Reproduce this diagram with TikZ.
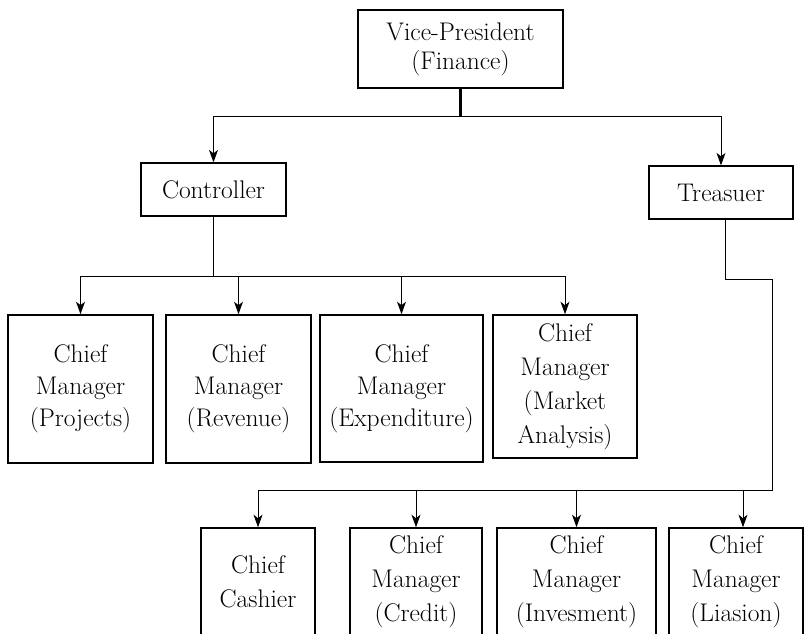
\documentclass[tikz,border=0pt]{standalone}
\usetikzlibrary{arrows.meta}
\begin{document}
\begin{tikzpicture}[x=1pt,y=-1pt,
  box/.style={draw, line width=1.6pt, align=center, inner sep=0pt, font=\fontsize{25.5}{32}\selectfont},
  conn/.style={line width=1pt},
  arr/.style={conn, -{Stealth[length=12.5pt,width=9pt,inset=3.5pt]}}]
\useasboundingbox (0,0) rectangle (807,633);
\clip (0,0) rectangle (807,633);
\fill[white] (0,0) rectangle (807,633);
% nodes
\node[box, font=\fontsize{25.5}{29}\selectfont, minimum width=205pt, minimum height=78pt] (vp) at (460.5,49) {Vice-President\\(Finance)};
\node[box, line width=1.3pt, minimum width=145pt, minimum height=53pt] (ctrl) at (213.5,189.5) {Controller};
\node[box, line width=1.3pt, minimum width=144pt, minimum height=53pt] (tr) at (721,192.5) {Treasuer};
\node[box, minimum width=145pt, minimum height=148pt] (ra) at (80.5,389) {Chief\\Manager\\(Projects)};
\node[box, minimum width=145pt, minimum height=148pt] (rb) at (238.5,389) {Chief\\Manager\\(Revenue)};
\node[box, minimum width=163pt, minimum height=147pt] (rc) at (401.5,388.5) {Chief\\Manager\\(Expenditure)};
\node[box, font=\fontsize{25.5}{34}\selectfont, minimum width=144pt, minimum height=143pt] (rd) at (565,386.5) {Chief\\Manager\\(Market\\Analysis)};
\node[box, font=\fontsize{25.5}{34}\selectfont, minimum width=114pt, minimum height=108pt] (sa) at (258,582) {Chief\\Cashier};
\node[box, font=\fontsize{25.5}{34}\selectfont, minimum width=132pt, minimum height=108pt] (sb) at (416,582) {Chief\\Manager\\(Credit)};
\node[box, font=\fontsize{25.5}{34}\selectfont, minimum width=159pt, minimum height=108pt] (sc) at (576.5,582) {Chief\\Manager\\(Invesment)};
\node[box, font=\fontsize{25.5}{34}\selectfont, minimum width=134pt, minimum height=108pt] (sd) at (736,582) {Chief\\Manager\\(Liasion)};
% coordinates
\coordinate (h0) at (0,116);
\coordinate (h1) at (0,276);
\coordinate (tk) at (772,279);
\coordinate (tb) at (772,490);
% top level
\draw[line width=2.4pt] (vp.south) -- (vp.south |- h0);
\draw[conn] (ctrl.north |- h0) -- (tr.north |- h0);
\draw[arr] (ctrl.north |- h0) -- (ctrl.north);
\draw[arr] (tr.north |- h0) -- (tr.north);
% controller branch
\draw[conn] (ctrl.south) -- (ctrl.south |- h1);
\draw[conn] (ra.north |- h1) -- (rd.north |- h1);
\draw[arr] (ra.north |- h1) -- (ra.north);
\draw[arr] (rb.north |- h1) -- (rb.north);
\draw[arr] (rc.north |- h1) -- (rc.north);
\draw[arr] (rd.north |- h1) -- (rd.north);
% treasurer branch
\draw[conn] ([xshift=4pt]tr.south) -- ([xshift=4pt]tr.south |- tk) -- (tk) -- (tb) -- (sa.north |- tb);
\draw[arr] (sa.north |- tb) -- (sa.north);
\draw[arr] (sb.north |- tb) -- (sb.north);
\draw[arr] (sc.north |- tb) -- (sc.north);
\draw[arr] ([xshift=7pt]sd.north |- tb) -- ([xshift=7pt]sd.north);
\end{tikzpicture}
\end{document}
